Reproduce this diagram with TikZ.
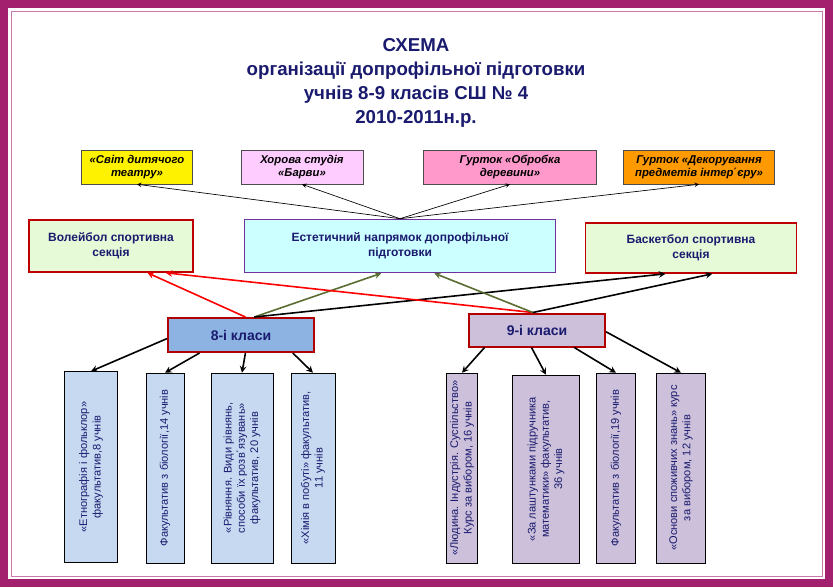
\documentclass[tikz,border=0pt]{standalone}
\usepackage{fontspec}
\setmainfont{Liberation Sans}
\usetikzlibrary{calc}
\definecolor{frame}{HTML}{A3206F}
\definecolor{navy}{HTML}{1A1A6E}
\definecolor{cblue}{HTML}{8DB3E2}
\definecolor{lblue}{HTML}{C6D9F1}
\definecolor{lilac}{HTML}{CCC0DA}
\definecolor{mint}{HTML}{E6FAD8}
\definecolor{olive}{HTML}{5A6E32}
\tikzset{
  topbox/.style={draw=black!70, font=\fontsize{8.5}{10}\selectfont\bfseries\itshape, align=center, inner sep=1pt},
  midbox/.style={draw, line width=1.2pt, font=\fontsize{9}{11}\selectfont\bfseries, text=navy, align=center, inner sep=1pt},
  classbox/.style={draw=red!70!black, line width=1.5pt, font=\fontsize{10.5}{12}\selectfont\bfseries, text=navy, inner sep=1pt},
  subbox/.style={draw=black, rotate=90, font=\fontsize{8.3}{10}\selectfont, text=navy, align=center, inner sep=1pt},
  arr/.style={-stealth, line width=1.2pt},
  thin/.style={-stealth, line width=0.5pt}
}
\begin{document}
\begin{tikzpicture}[x=0.75pt,y=-0.75pt]
\useasboundingbox (0,0) rectangle (833,587);
% frame
\fill[frame] (0,0) rectangle (833,587);
\fill[white] (8,8) rectangle (825,579);
\draw[frame!60, line width=0.6pt] (11,11) rectangle (822,576);

% title
\node[font=\fontsize{14}{18}\selectfont\bfseries, text=navy, align=center] (title) at (416,83)
  {СХЕМА\\організації допрофільної підготовки\\учнів 8-9 класів СШ № 4\\2010-2011н.р.};

% top boxes
\node[topbox, fill=yellow, minimum width=111*0.75pt, minimum height=34*0.75pt] (teatr) at (137,167) {«Світ дитячого\\театру»};
\node[topbox, fill={rgb,255:red,255;green,204;blue,255}, minimum width=122*0.75pt, minimum height=34*0.75pt] (hor) at (302,167) {Хорова студія\\«Барви»};
\node[topbox, fill={rgb,255:red,255;green,153;blue,204}, minimum width=173*0.75pt, minimum height=34*0.75pt] (derevo) at (510,167) {Гурток «Обробка\\деревини»};
\node[topbox, fill={rgb,255:red,255;green,153;blue,0}, minimum width=151*0.75pt, minimum height=34*0.75pt] (dekor) at (699,167) {Гурток «Декорування\\предметів інтер΄єру»};

% middle row
\node[midbox, draw=red!75!black, fill=mint, minimum width=164*0.75pt, minimum height=52*0.75pt] (volei) at (111,246) {Волейбол спортивна\\секція};
\node[midbox, draw={rgb,255:red,112;green,48;blue,160}, fill={rgb,255:red,204;green,255;blue,255}, minimum width=311*0.75pt, minimum height=53*0.75pt] (estet) at (400,246) {Естетичний напрямок допрофільної\\підготовки};
\node[midbox, draw=red!75!black, fill=mint, minimum width=211*0.75pt, minimum height=50*0.75pt] (basket) at (691,248) {Баскетбол спортивна\\секція};

% classes
\node[classbox, fill=cblue, minimum width=146*0.75pt, minimum height=34*0.75pt] (c8) at (241,335) {8-і класи};
\node[classbox, fill=lilac, minimum width=136*0.75pt, minimum height=33*0.75pt] (c9) at (537,330) {9-і класи};

% subjects 8
\node[subbox, fill=lblue, minimum width=191*0.75pt, minimum height=53*0.75pt] (s81) at (91,467) {«Етнографія і фольклор»\\факультатив,8 учнів};
\node[subbox, fill=lblue, minimum width=190*0.75pt, minimum height=38*0.75pt] (s82) at (165,468) {Факультатив з біології,14 учнів};
\node[subbox, fill=lblue, minimum width=190*0.75pt, minimum height=62*0.75pt] (s83) at (242,468) {«Рівняння. Види рівнянь,\\способи їх розв΄язувань»\\факультатив, 20 учнів};
\node[subbox, fill=lblue, minimum width=190*0.75pt, minimum height=44*0.75pt] (s84) at (313,468) {«Хімія в побуті» факультатив,\\11 учнів};

% subjects 9
\node[subbox, fill=lilac, minimum width=190*0.75pt, minimum height=31*0.75pt] (s91) at (462,468) {«Людина. Індустрія. Суспільство»\\Курс за вибором, 16 учнів};
\node[subbox, fill=lilac, minimum width=188*0.75pt, minimum height=67*0.75pt] (s92) at (546,469) {«За лаштунками підручника\\математики» факультатив,\\36 учнів};
\node[subbox, fill=lilac, minimum width=190*0.75pt, minimum height=39*0.75pt] (s93) at (616,468) {Факультатив з біології,19 учнів};
\node[subbox, fill=lilac, minimum width=190*0.75pt, minimum height=49*0.75pt] (s94) at (681,468) {«Основи споживчих знань» курс\\за вибором, 12 учнів};

% aesthetic to circles
\foreach \t in {teatr,hor,derevo,dekor}
  \draw[thin] (estet.north) -- (\t.south);

% classes to sections
\draw[arr, red] ($(c8.north west)!0.53!(c8.north east)$) -- ($(volei.south west)!0.72!(volei.south east)$);
\draw[arr, olive] ($(c8.north west)!0.59!(c8.north east)$) -- ($(estet.south west)!0.44!(estet.south east)$);
\draw[arr, black] ($(c8.north west)!0.59!(c8.north east)$) -- ($(basket.south west)!0.38!(basket.south east)$);
\draw[arr, red] ($(c9.north west)!0.47!(c9.north east)$) -- ($(volei.south west)!0.83!(volei.south east)$);
\draw[arr, olive] ($(c9.north west)!0.47!(c9.north east)$) -- ($(estet.south west)!0.61!(estet.south east)$);
\draw[arr, black] ($(c9.north west)!0.47!(c9.north east)$) -- ($(basket.south west)!0.6!(basket.south east)$);

% classes to subjects
\draw[arr] ($(c8.north west)!0.6!(c8.south west)$) -- (s81.east);
\draw[arr] ($(c8.south west)!0.22!(c8.south east)$) -- (s82.east);
\draw[arr] ($(c8.south west)!0.53!(c8.south east)$) -- (s83.east);
\draw[arr] ($(c8.south west)!0.85!(c8.south east)$) -- (s84.east);
\draw[arr] ($(c9.south west)!0.12!(c9.south east)$) -- (s91.east);
\draw[arr] ($(c9.south west)!0.46!(c9.south east)$) -- (s92.east);
\draw[arr] ($(c9.south west)!0.77!(c9.south east)$) -- (s93.east);
\draw[arr] ($(c9.north east)!0.55!(c9.south east)$) -- (s94.east);
\end{tikzpicture}
\end{document}
